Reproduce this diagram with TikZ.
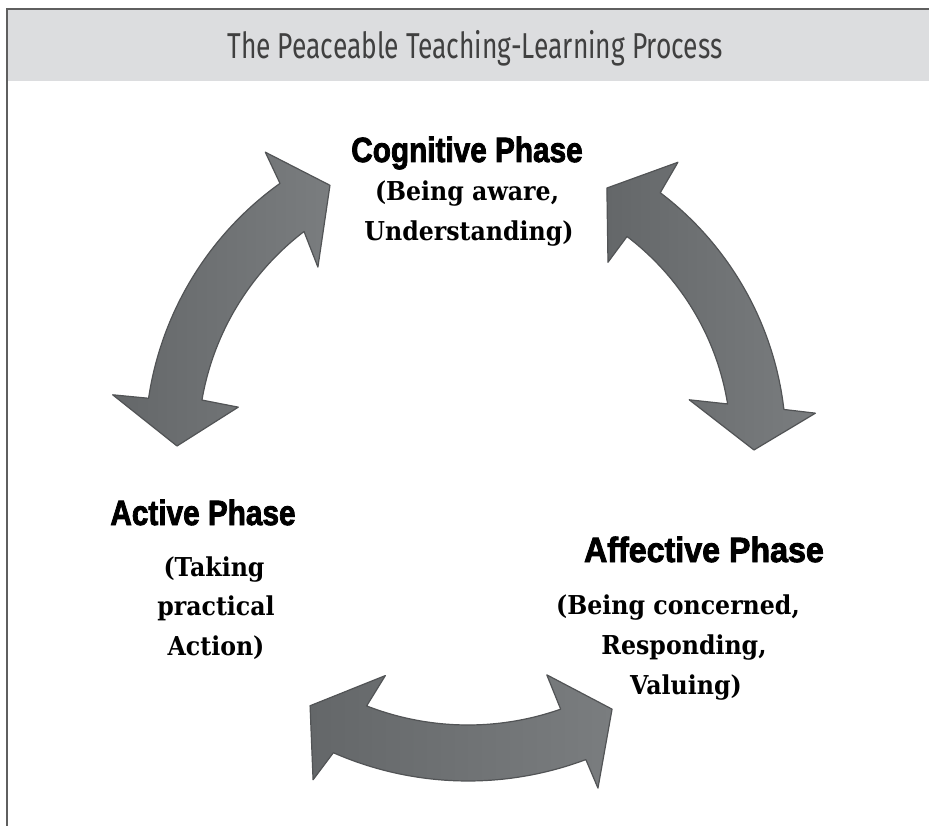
\documentclass[tikz,border=0pt]{standalone}
\usepackage{fontspec}
\usepackage{graphicx}
\newfontfamily\titlefont{Fira Sans}
\newfontfamily\headfont{Liberation Sans}[BoldFeatures={FakeBold=2.5}]
\newfontfamily\detailfont{DejaVu Serif}
\definecolor{bandgray}{RGB}{220,221,223}
\definecolor{framegray}{RGB}{95,95,95}
\definecolor{arrowdark}{RGB}{100,103,105}
\definecolor{arrowlight}{RGB}{122,125,127}
\definecolor{arrowedge}{RGB}{82,84,86}
\tikzset{
  blockarrow/.style={left color=arrowdark, right color=arrowlight, draw=arrowedge, line width=1.2pt, line join=round},
  heading/.style={anchor=base, inner sep=0pt, font=\headfont\bfseries\fontsize{35}{40}\selectfont},
  detail/.style={anchor=base, inner sep=0pt, font=\detailfont\bfseries\fontsize{26}{40}\selectfont},
}
\newcommand{\hscale}[1]{\scalebox{0.85}[1]{#1}}
\newcommand{\dscale}[1]{\scalebox{0.91}[1]{#1}}
\begin{document}
\begin{tikzpicture}[x=1pt,y=-1pt]
\useasboundingbox (0,0) rectangle (929,826);
% frame and title band
\fill[bandgray] (7,9) rectangle (929,81);
\draw[framegray, line width=1.5pt] (7,826) -- (7,9) -- (929,9);
\node[anchor=base, inner sep=0pt, text=black!75] (title) at (475,59)
  {\titlefont\fontsize{36}{40}\selectfont\resizebox{495pt}{\height}{The Peaceable Teaching-Learning Process}};

\begin{scope}[shift={(468,446)}]
% top-left double arrow
\shade[blockarrow] (-117.9:295) -- (-124.6:357) -- (-125.6:323)
  arc[start angle=-125.6, end angle=-171.5, radius=323]
  -- (-171.8:359) -- (-180:291) -- (-170.4:233) -- (-170.2:270)
  arc[start angle=-170.2, end angle=-127.4, radius=270]
  -- (-130:233.5) -- cycle;
% right double arrow
\shade[blockarrow] (-61.7:293) -- (-53.5:353) -- (-52.8:318)
  arc[start angle=-52.8, end angle=-6.6, radius=318]
  -- (-5.4:349) -- (0.8:286) -- (-11.8:226) -- (-9.2:263)
  arc[start angle=-9.2, end angle=-52.8, radius=263]
  -- (-52.7:231) -- cycle;
% bottom double arrow
\shade[blockarrow] (121.3:304) -- (109.8:244) -- (111.3:279)
  arc[start angle=111.3, end angle=70.6, radius=279]
  -- (71.0:242) -- (61.3:300) -- (69.2:366) -- (69.4:335)
  arc[start angle=69.4, end angle=113.7, radius=335]
  -- (114.9:368) -- cycle;
\end{scope}

% Cognitive phase
\node[heading] (coghead) at (467,162) {\hscale{Cognitive Phase}};
\node[detail] (cog1) at (467,201) {\dscale{(Being aware,}};
\node[detail] (cog2) at (469,241) {\dscale{Understanding)}};

% Active phase
\node[heading] (acthead) at (203,525) {\hscale{Active Phase}};
\node[detail] (act1) at (214,576) {\dscale{(Taking}};
\node[detail] (act2) at (216,615) {\dscale{practical}};
\node[detail] (act3) at (216,655) {\dscale{Action)}};

% Affective phase
\node[heading] (affhead) at (704,562) {\scalebox{0.92}[1]{Affective Phase}};
\node[detail] (aff1) at (678,614) {\dscale{(Being concerned,}};
\node[detail] (aff2) at (684,654) {\dscale{Responding,}};
\node[detail] (aff3) at (686,694) {\dscale{Valuing)}};
\end{tikzpicture}
\end{document}
